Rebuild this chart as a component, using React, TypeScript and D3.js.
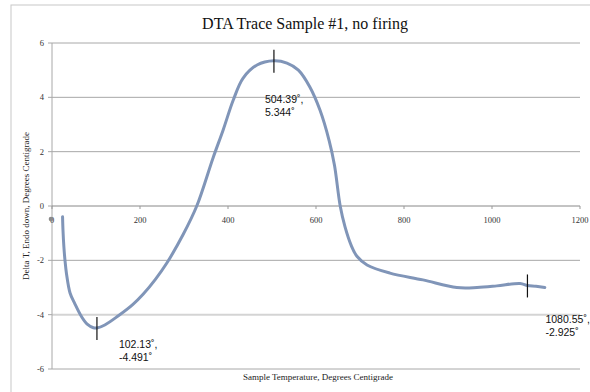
import React from "react";
import * as d3 from "d3";

const temps = [24, 25, 27, 29.5, 33, 41, 52, 67, 80, 94, 102.13, 120, 150, 184, 207, 235, 261, 298, 329, 366, 389, 412, 434, 466, 504.39, 534, 560, 586, 609, 630, 642, 655, 666, 680, 693, 716, 768, 843, 920, 966, 1011, 1064, 1080.55, 1100, 1120];
const deltas = [-0.4, -0.9, -1.5, -2.0, -2.5, -3.2, -3.6, -4.07, -4.35, -4.48, -4.491, -4.38, -4.05, -3.62, -3.25, -2.7, -2.1, -1.05, 0.0, 1.77, 2.8, 3.9, 4.7, 5.19, 5.344, 5.26, 5.0, 4.38, 3.53, 2.4, 1.5, 0.0, -0.77, -1.45, -1.85, -2.17, -2.47, -2.72, -3.0, -3.0, -2.94, -2.85, -2.925, -2.95, -3.0];

const xTicks = [0, 200, 400, 600, 800, 1000, 1200];
const yTicks = [6, 4, 2, 0, -2, -4, -6];

const annTemps = [504.39, 102.13, 1080.55];
const annDeltas = [5.344, -4.491, -2.925];
const annLabels1 = ["504.39˚,", "102.13˚,", "1080.55˚,"];
const annLabels2 = ["5.344˚", "-4.491˚", "-2.925˚"];
const annOffsets: [number, number][] = [[-9, 42], [22, 20], [18, 38]];

const title = "DTA Trace Sample #1, no firing";
const xTitle = "Sample Temperature, Degrees Centigrade";
const yTitle = "Delta T, Endo down, Degrees Centigrade";

export default function App() {
  const W = 590, H = 392;
  const x = d3.scaleLinear().domain([0, 1200]).range([52, 580]);
  const y = d3.scaleLinear().domain([-6, 6]).range([369, 43]);
  const pts = temps.map((t, i) => [t, deltas[i]] as [number, number]);
  const line = d3.line<[number, number]>()
    .x(d => x(d[0]))
    .y(d => y(d[1]))
    .curve(d3.curveCatmullRom.alpha(0.5));
  const serif = "'Liberation Serif', 'Times New Roman', serif";
  const sans = "'Liberation Sans', Arial, sans-serif";
  return (
    <svg width={W} height={H} style={{ position: "absolute", left: 0, top: 0, background: "#fff" }}>
      <rect x={11} y={5} width={W} height={H} fill="#fff" stroke="#c8c8c8" strokeWidth={1} />
      <text x={305} y={29} textAnchor="middle" fontFamily={serif} fontSize={16} fill="#111">{title}</text>
      {yTicks.map(v => (
        <g key={"y" + v}>
          {v !== 0 && (
            <line x1={52} x2={580} y1={y(v)} y2={y(v)}
              stroke={v === -4 ? "#d4d4d4" : "#a8a8a8"} strokeWidth={v === -4 ? 2 : 1} />
          )}
          <line x1={48} x2={52} y1={y(v)} y2={y(v)} stroke="#a8a8a8" />
          <text x={44} y={y(v) + 3} textAnchor="end" fontFamily={serif} fontSize={8.5} fill="#333">{v}</text>
        </g>
      ))}
      <line x1={52} x2={52} y1={y(6)} y2={y(-6)} stroke="#a8a8a8" />
      <line x1={52} x2={580} y1={y(0)} y2={y(0)} stroke="#888" />
      {xTicks.map(v => (
        <g key={"x" + v}>
          <line x1={x(v)} x2={x(v)} y1={y(0)} y2={y(0) + 3} stroke="#999" />
          <text x={x(v)} y={y(0) + 17} textAnchor="middle" fontFamily={serif} fontSize={8.5} fill="#333">{v}</text>
        </g>
      ))}
      <circle cx={51} cy={y(0) + 13} r={2.3} fill="#8a8a8a" />
      <path d={line(pts) || ""} fill="none" stroke="#8095b8" strokeWidth={3} strokeLinejoin="round" strokeLinecap="round" />
      {annTemps.map((t, i) => (
        <g key={"a" + i}>
          <line x1={x(t)} x2={x(t)} y1={y(annDeltas[i]) - 11} y2={y(annDeltas[i]) + 12} stroke="#111" strokeWidth={1.2} />
          <text fontFamily={sans} fontSize={10.5} fill="#111">
            <tspan x={x(t) + annOffsets[i][0]} y={y(annDeltas[i]) + annOffsets[i][1]}>{annLabels1[i]}</tspan>
            <tspan x={x(t) + annOffsets[i][0]} y={y(annDeltas[i]) + annOffsets[i][1] + 13}>{annLabels2[i]}</tspan>
          </text>
        </g>
      ))}
      <text x={318} y={380} textAnchor="middle" fontFamily={serif} fontSize={9} fill="#222">{xTitle}</text>
      <text transform={`translate(29,206) rotate(-90)`} textAnchor="middle" fontFamily={serif} fontSize={9} fill="#222">{yTitle}</text>
    </svg>
  );
}
